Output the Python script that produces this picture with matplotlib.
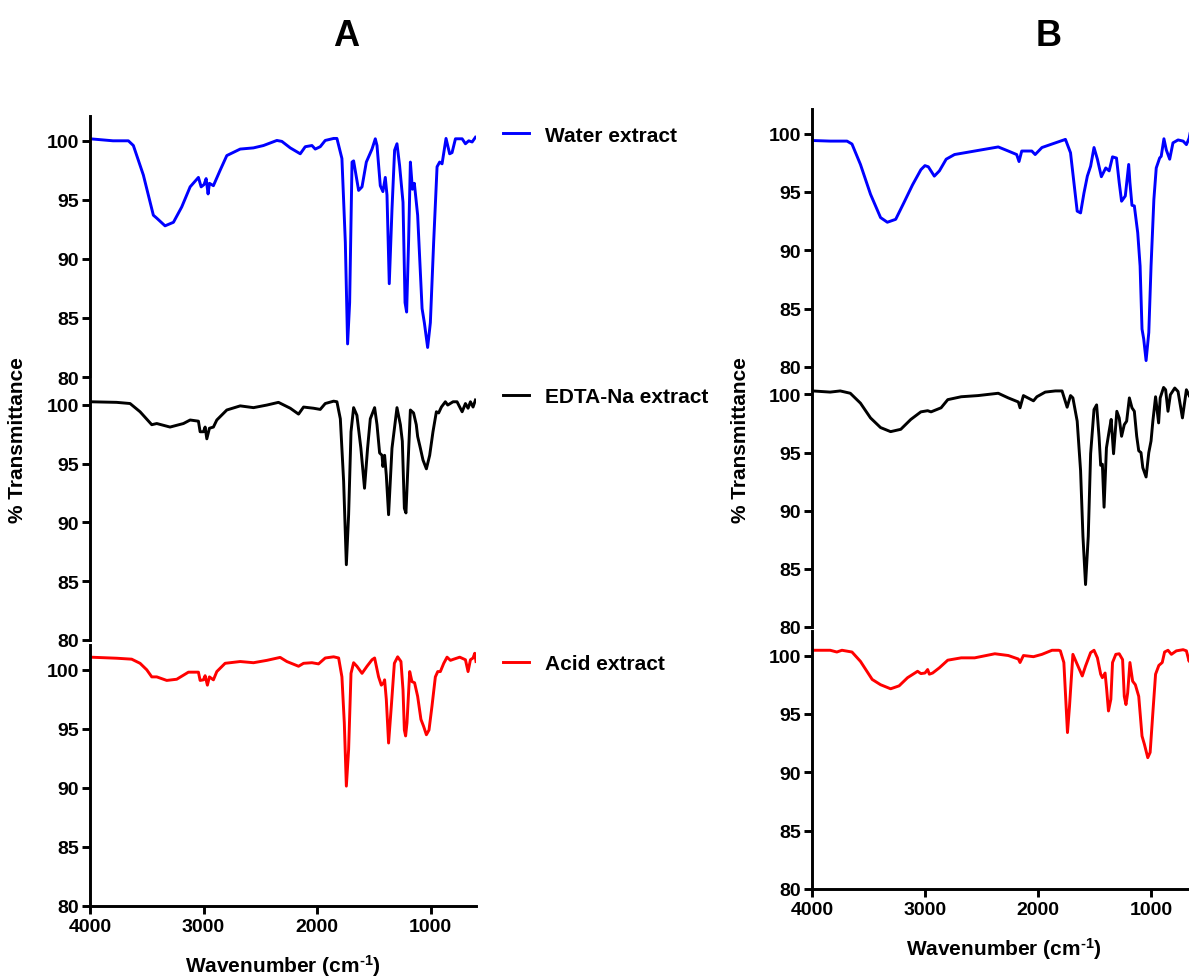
import matplotlib
matplotlib.use("Agg")
import matplotlib.pyplot as plt

plt.rcParams['font.family'] = ['Liberation Sans', 'DejaVu Sans']
plt.rcParams['font.weight'] = 'bold'
plt.rcParams['mathtext.fontset'] = 'custom'
plt.rcParams['mathtext.bf'] = 'Liberation Sans:bold'
plt.rcParams['mathtext.rm'] = 'Liberation Sans:bold'
plt.rcParams['mathtext.default'] = 'bf'

# ---------------- data: panel A ----------------
a_water_wn = [4000, 3797, 3662, 3618, 3530, 3442, 3412, 3339, 3265, 3192, 3118, 3045, 3021, 2995, 2977, 2960,
              2948, 2913, 2854, 2795, 2677, 2560, 2472, 2354, 2310, 2236, 2148, 2104, 2045, 2016, 1972, 1928,
              1854, 1825, 1781, 1751, 1731, 1713, 1692, 1678, 1634, 1604, 1566, 1516, 1487, 1472, 1443, 1420,
              1399, 1384, 1364, 1340, 1317, 1296, 1273, 1243, 1225, 1211, 1194, 1178, 1160, 1143, 1114, 1075,
              1055, 1026, 1002, 973, 943, 920, 899, 864, 832, 811, 781, 722, 693, 664, 634, 605]
a_water_t = [100.17, 100.0, 100.0, 99.6, 97.1, 93.7, 93.45, 92.8, 93.1, 94.4, 96.1, 96.9, 96.1, 96.3, 96.8, 95.5,
             96.4, 96.2, 97.5, 98.75, 99.3, 99.4, 99.6, 100.03, 99.95, 99.4, 98.9, 99.5, 99.6, 99.3, 99.5, 100.03,
             100.2, 100.2, 98.5, 91.4, 82.8, 86.3, 98.2, 98.3, 95.8, 96.1, 98.2, 99.3, 100.17, 99.6, 96.2, 95.7,
             96.9, 95.4, 87.9, 94.2, 99.2, 99.75, 97.9, 94.8, 86.3, 85.5, 91.4, 98.2, 95.9, 96.4, 93.7, 85.8,
             84.6, 82.5, 84.6, 91.4, 97.8, 98.2, 98.05, 100.2, 98.9, 99.0, 100.17, 100.17, 99.75, 100.0, 99.9, 100.3]

a_edta_wn = [4000, 3765, 3647, 3559, 3456, 3412, 3295, 3177, 3118, 3045, 3030, 3001, 2986, 2971, 2948, 2913,
             2883, 2795, 2677, 2560, 2442, 2340, 2236, 2163, 2119, 2031, 1972, 1928, 1854, 1825, 1795, 1766,
             1742, 1722, 1701, 1678, 1649, 1614, 1582, 1555, 1531, 1493, 1472, 1449, 1428, 1420, 1405, 1390,
             1370, 1340, 1296, 1266, 1249, 1231, 1217, 1199, 1178, 1150, 1126, 1114, 1090, 1067, 1037, 1008,
             979, 949, 929, 905, 870, 849, 802, 767, 722, 693, 670, 649, 626, 605]
a_edta_t = [100.25, 100.2, 100.1, 99.4, 98.3, 98.4, 98.1, 98.4, 98.7, 98.6, 97.7, 97.7, 98.1, 97.1, 98.0, 98.1,
            98.7, 99.55, 99.9, 99.75, 99.97, 100.2, 99.7, 99.2, 99.8, 99.7, 99.6, 100.1, 100.3, 100.25, 98.8, 93.5,
            86.4, 90.65, 97.7, 99.75, 99.1, 96.3, 92.9, 96.3, 98.8, 99.75, 98.3, 95.9, 95.7, 94.75, 95.7, 94.0,
            90.65, 96.3, 99.75, 98.3, 96.9, 91.2, 90.8, 94.9, 99.55, 99.3, 98.3, 97.3, 96.3, 95.3, 94.55, 95.7,
            97.7, 99.4, 99.3, 99.8, 100.25, 99.97, 100.25, 100.25, 99.4, 100.1, 99.7, 100.25, 99.8, 100.4]

a_acid_wn = [4000, 3765, 3633, 3559, 3500, 3456, 3412, 3324, 3236, 3133, 3045, 3030, 3001, 2986, 2966, 2948,
             2913, 2883, 2810, 2677, 2560, 2442, 2325, 2266, 2163, 2119, 2045, 1987, 1928, 1854, 1810, 1781,
             1760, 1742, 1722, 1701, 1678, 1649, 1604, 1560, 1516, 1493, 1458, 1434, 1414, 1405, 1390, 1370,
             1346, 1319, 1290, 1261, 1243, 1231, 1220, 1208, 1184, 1164, 1141, 1114, 1085, 1061, 1037, 1014,
             988, 958, 937, 914, 884, 855, 825, 796, 743, 693, 670, 649, 626, 611, 600]
a_acid_t = [101.07, 100.98, 100.9, 100.55, 100.0, 99.4, 99.4, 99.1, 99.2, 99.8, 99.8, 99.1, 99.15, 99.5, 98.7, 99.4,
            99.15, 99.85, 100.55, 100.7, 100.6, 100.8, 101.05, 100.7, 100.3, 100.55, 100.6, 100.5, 101.0, 101.1, 101.0, 99.4,
            95.5, 90.15, 93.25, 99.7, 100.6, 100.3, 99.7, 100.3, 100.85, 101.0, 99.4, 98.7, 98.9, 99.15, 97.5, 93.8,
            96.9, 100.55, 101.1, 100.7, 98.3, 94.9, 94.4, 95.5, 99.85, 99.0, 98.9, 97.75, 95.8, 95.2, 94.5, 94.9,
            96.9, 99.4, 99.85, 99.85, 100.55, 101.07, 100.8, 100.9, 101.07, 100.85, 99.85, 100.85, 101.0, 101.4, 100.7]

# ---------------- data: panel B ----------------
b_water_wn = [3994, 3839, 3690, 3646, 3571, 3482, 3393, 3333, 3259, 3185, 3110, 3036, 3000, 2970, 2917, 2872,
              2812, 2738, 2619, 2500, 2351, 2262, 2188, 2167, 2143, 2054, 2024, 1964, 1875, 1770, 1756, 1711,
              1681, 1652, 1622, 1592, 1562, 1533, 1503, 1473, 1438, 1399, 1369, 1339, 1304, 1280, 1259, 1226,
              1196, 1185, 1167, 1146, 1116, 1095, 1078, 1063, 1042, 1018, 998, 973, 952, 922, 908, 884,
              863, 833, 804, 759, 714, 685, 661, 646, 634]
b_water_t = [99.4, 99.35, 99.35, 99.1, 97.35, 94.8, 92.8, 92.4, 92.65, 94.1, 95.6, 96.9, 97.25, 97.15, 96.35, 96.8,
             97.8, 98.2, 98.4, 98.6, 98.85, 98.5, 98.2, 97.6, 98.5, 98.5, 98.2, 98.8, 99.1, 99.45, 99.5, 98.35,
             95.8, 93.35, 93.2, 94.9, 96.35, 97.2, 98.8, 97.8, 96.3, 97.05, 96.8, 98.0, 97.9, 95.8, 94.2, 94.65,
             97.35, 95.8, 93.85, 93.8, 91.5, 88.65, 83.25, 82.4, 80.55, 82.95, 88.65, 94.35, 97.05, 97.9, 98.05, 99.55,
             98.6, 97.8, 99.2, 99.45, 99.35, 99.05, 99.6, 100.35, 99.75]

b_edta_wn = [3994, 3839, 3750, 3661, 3571, 3482, 3393, 3304, 3214, 3125, 3036, 2976, 2946, 2857, 2798, 2679,
             2530, 2351, 2262, 2173, 2158, 2128, 2039, 2009, 1935, 1845, 1786, 1741, 1711, 1690, 1652, 1622,
             1601, 1578, 1554, 1533, 1503, 1480, 1458, 1444, 1429, 1414, 1393, 1369, 1351, 1330, 1301, 1280,
             1259, 1235, 1214, 1190, 1167, 1146, 1125, 1107, 1087, 1071, 1042, 1018, 998, 982, 958, 931,
             917, 887, 869, 848, 827, 788, 759, 720, 685, 655, 640]
b_edta_t = [100.3, 100.2, 100.3, 100.1, 99.25, 97.98, 97.15, 96.8, 97.0, 97.85, 98.5, 98.6, 98.5, 98.85, 99.55, 99.8,
            99.9, 100.1, 99.7, 99.35, 98.85, 99.9, 99.45, 99.8, 100.2, 100.3, 100.3, 98.9, 99.9, 99.7, 97.7, 93.45,
            87.8, 83.65, 87.8, 94.9, 98.7, 99.1, 96.3, 93.9, 94.0, 90.3, 95.4, 96.85, 97.85, 94.9, 98.55, 97.98,
            96.4, 97.4, 97.7, 99.7, 98.85, 98.55, 96.4, 95.15, 95.0, 93.7, 92.9, 95.0, 96.0, 97.7, 99.8, 97.55,
            99.7, 100.6, 100.4, 98.55, 99.97, 100.55, 100.25, 97.98, 100.4, 99.8, 100.55]

b_acid_wn = [3994, 3839, 3780, 3735, 3646, 3571, 3467, 3393, 3304, 3229, 3154, 3065, 3036, 3000, 2976, 2961,
             2932, 2872, 2798, 2679, 2560, 2381, 2262, 2173, 2158, 2128, 2039, 1964, 1875, 1845, 1815, 1801,
             1770, 1750, 1738, 1720, 1690, 1652, 1607, 1578, 1533, 1503, 1473, 1444, 1429, 1405, 1391, 1375,
             1354, 1339, 1310, 1280, 1250, 1235, 1220, 1205, 1185, 1161, 1137, 1107, 1078, 1057, 1027, 1006,
             982, 958, 929, 899, 878, 848, 818, 774, 714, 685, 661, 640]
b_acid_t = [100.45, 100.45, 100.3, 100.45, 100.3, 99.5, 97.95, 97.5, 97.15, 97.4, 98.1, 98.65, 98.45, 98.5, 98.8, 98.4,
            98.5, 98.95, 99.6, 99.8, 99.8, 100.15, 100.0, 99.7, 99.4, 100.0, 99.9, 100.1, 100.45, 100.45, 100.45, 100.4,
            99.4, 95.65, 93.4, 95.65, 100.1, 99.25, 98.25, 99.1, 100.25, 100.45, 99.8, 98.4, 98.1, 98.5, 97.1, 95.25,
            96.25, 99.4, 100.1, 100.15, 99.65, 96.5, 95.8, 96.8, 99.4, 97.8, 97.5, 96.5, 93.1, 92.4, 91.25, 91.7,
            95.1, 98.4, 99.15, 99.4, 100.3, 100.45, 100.1, 100.4, 100.5, 100.4, 99.5, 100.45]

series_labels = ["Water extract", "EDTA-Na extract", "Acid extract"]
series_colors = ["#0000ff", "#000000", "#ff0000"]
y_ticks = [80, 85, 90, 95, 100]
x_ticks = [4000, 3000, 2000, 1000]
x_label = 'Wavenumber (cm$^{\\text{-}1}$)'

W, H = 1189, 978
fig = plt.figure(figsize=(W / 100, H / 100), dpi=100)


def px_axes(left, top, right, bottom):
    return fig.add_axes([left / W, 1 - bottom / H, (right - left) / W, (bottom - top) / H])


def style(ax, show_x):
    ax.set_xlim(4000, 600)
    ax.set_ylim(80, 102.1)
    ax.set_yticks(y_ticks)
    for s in ['top', 'right']:
        ax.spines[s].set_visible(False)
    ax.spines['left'].set_linewidth(2.1)
    ax.spines['bottom'].set_linewidth(2.1)
    ax.tick_params(axis='y', direction='out', length=6, width=2.1, labelsize=14, pad=2)
    ax.patch.set_alpha(0)
    if show_x:
        ax.set_xticks(x_ticks)
        ax.tick_params(axis='x', direction='out', length=6, width=2.1, labelsize=14, pad=3)
    else:
        ax.spines['bottom'].set_visible(False)
        ax.set_xticks([])
    for lab in ax.get_yticklabels() + ax.get_xticklabels():
        lab.set_fontweight('bold')


a_boxes = [(90, 117, 476, 378), (90, 381, 476, 641), (90, 646, 476, 907)]
b_boxes = [(812, 110, 1196, 368), (812, 371, 1196, 628), (812, 632, 1196, 890)]
a_data = [(a_water_wn, a_water_t), (a_edta_wn, a_edta_t), (a_acid_wn, a_acid_t)]
b_data = [(b_water_wn, b_water_t), (b_edta_wn, b_edta_t), (b_acid_wn, b_acid_t)]
legend_y = [134, 396, 663]

for i, (box, (wn, t)) in enumerate(zip(a_boxes, a_data)):
    ax = px_axes(*box)
    ln, = ax.plot(wn, t, color=series_colors[i], lw=2.1, solid_joinstyle='round')
    style(ax, i == 2)
    ax.legend([ln], [series_labels[i]], loc='center left', frameon=False,
              bbox_to_anchor=(503 / W, 1 - (legend_y[i] + 2) / H), bbox_transform=fig.transFigure,
              borderpad=0, borderaxespad=0, handlelength=1.25, handletextpad=0.75,
              prop={'size': 15, 'weight': 'bold'})
    if i == 2:
        ax.set_xlabel(x_label, fontsize=15, fontweight='bold', labelpad=12)

for i, (box, (wn, t)) in enumerate(zip(b_boxes, b_data)):
    ax = px_axes(*box)
    ax.plot(wn, t, color=series_colors[i], lw=2.1, solid_joinstyle='round')
    style(ax, i == 2)
    if i == 2:
        ax.set_xlabel(x_label, fontsize=15, fontweight='bold', labelpad=12)

fig.text(18 / W, 1 - 440 / H, '% Transmittance', rotation=90, ha='center', va='center',
         fontsize=15, fontweight='bold')
fig.text(740 / W, 1 - 440 / H, '% Transmittance', rotation=90, ha='center', va='center',
         fontsize=15, fontweight='bold')
fig.text(346 / W, 1 - 36 / H, 'A', ha='center', va='center', fontsize=26, fontweight='bold')
fig.text(1049 / W, 1 - 36 / H, 'B', ha='center', va='center', fontsize=26, fontweight='bold')

fig.savefig('out.png', dpi=100)
